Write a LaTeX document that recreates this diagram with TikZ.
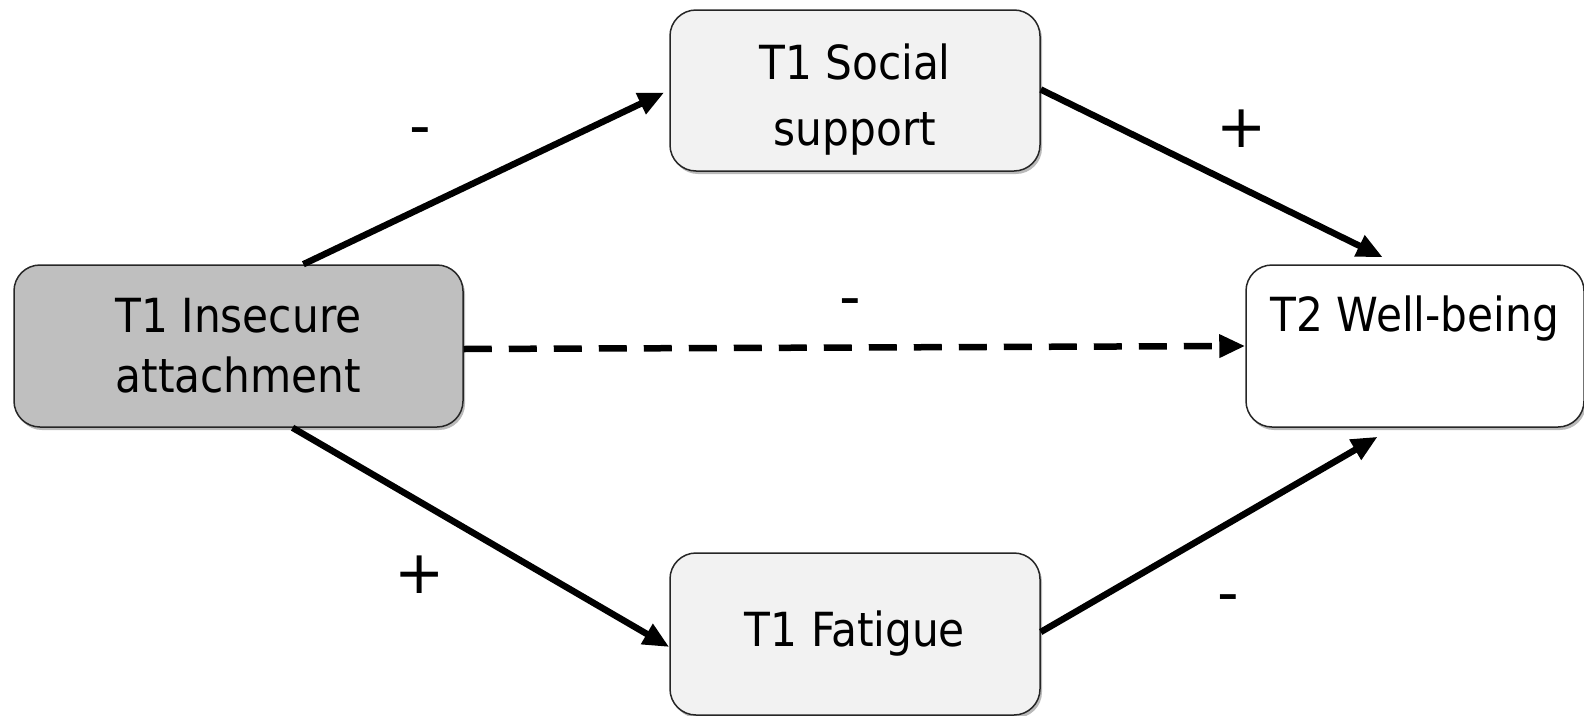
\documentclass[tikz,border=0pt]{standalone}
\usepackage{fontspec}
\setmainfont{DejaVu Sans Condensed}
\newfontfamily\signfont{DejaVu Sans}
\usetikzlibrary{arrows.meta,shadows,calc}
\begin{document}
\begin{tikzpicture}[x=1pt,y=-1pt,
  boxbase/.style={draw=black!85, line width=1.5pt, rounded corners=26pt,
    drop shadow={shadow xshift=2pt, shadow yshift=-3pt, opacity=0.45, fill=black!60},
    inner sep=0pt, minimum width=370pt, minimum height=161pt},
  txt/.style={font=\fontsize{47}{60}\selectfont, align=center, inner sep=0pt},
  sign/.style={font=\signfont\fontsize{60}{60}\selectfont, inner sep=0pt, anchor=base},
  conn/.style={line width=6.5pt, -{Triangle[length=26pt,width=22pt]}},
  dconn/.style={line width=6.5pt, dash pattern=on 28pt off 17pt, -{Triangle[length=26pt,width=22pt]}}]
\useasboundingbox (0,0) rectangle (1584,715);
% boxes
\node[boxbase, fill=black!25, minimum width=449pt, minimum height=162pt] (ins) at (238.5,346) {};
\node[txt] (inst) at (ins.center) {T1 Insecure\\attachment};
\node[boxbase, fill=black!5] (soc) at (855,90.5) {};
\node[txt, font=\fontsize{47}{66}\selectfont] (soct) at ($(soc.center)+(0,9)$) {T1 Social\\support};
\node[boxbase, fill=black!5, minimum height=162pt] (fat) at (855,634) {};
\node[txt] (fatt) at (fat.center) {T1 Fatigue};
\node[boxbase, fill=white, minimum width=338pt, minimum height=162pt] (wb) at (1415,346) {};
\node[txt, anchor=base] (wbt) at ($(wb.north)+(0,67)$) {T2 Well-being};
% connectors
\draw[conn] ($(ins.north west)!0.644!(ins.north east)$) -- ([xshift=-5pt,yshift=-2pt]soc.west);
\draw[conn] ([yshift=1pt]soc.east) -- ([yshift=7pt]$(wb.north west)!0.405!(wb.north east)$);
\draw[conn] ($(ins.south west)!0.62!(ins.south east)$) -- ([yshift=-13pt]fat.west);
\draw[conn] ([yshift=2pt]fat.east) -- ([yshift=-9pt]$(wb.south west)!0.39!(wb.south east)$);
\draw[dconn] ([yshift=-3pt]ins.east) -- (wb.west);
% signs
\node[sign] (s1) at (420,146) {-};
\node[sign] (s2) at (1242,147) {+};
\node[sign] (s3) at (850,317) {-};
\node[sign] (s4) at (420,593) {+};
\node[sign] (s5) at (1228,613) {-};
\end{tikzpicture}
\end{document}
